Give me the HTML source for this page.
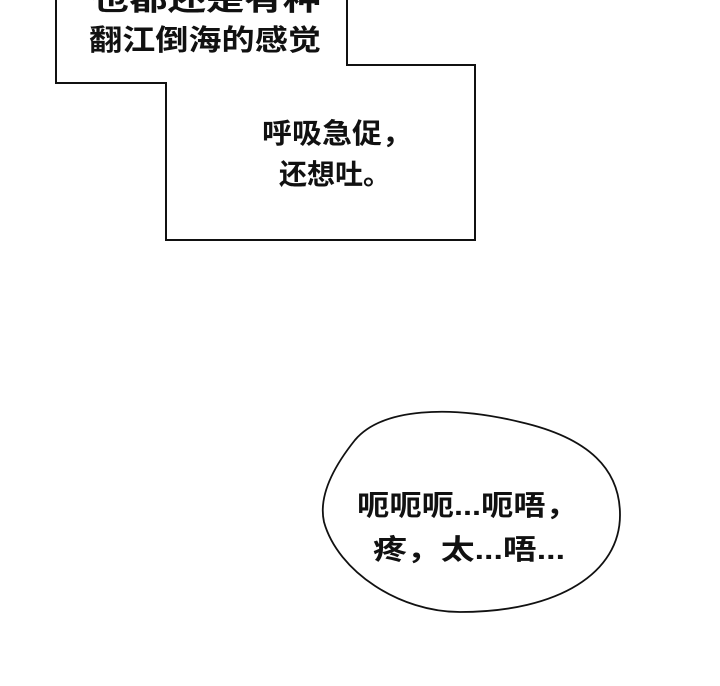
<!DOCTYPE html>
<html><head><meta charset="utf-8"><style>
html,body{margin:0;padding:0;background:#fff;}
svg{display:block}
text{font-family:"Liberation Sans","Noto Sans CJK SC",sans-serif;fill:#111;font-weight:bold;}
</style></head><body>
<svg width="720" height="686" viewBox="0 0 720 686" xmlns="http://www.w3.org/2000/svg">
<rect width="720" height="686" fill="#fff"/>
<path d="M56,-2 L56,83 L166,83 L166,240 L475,240 L475,65 L347,65 L347,-2" fill="#fff" stroke="#111" stroke-width="2"/>
<text x="91" y="10" font-size="29" textLength="230" lengthAdjust="spacingAndGlyphs">也都还是有种</text>
<text x="89" y="50" font-size="29" textLength="232" lengthAdjust="spacingAndGlyphs">翻江倒海的感觉</text>
<text x="262" y="143" font-size="28" textLength="150" lengthAdjust="spacingAndGlyphs">呼吸急促，</text>
<text x="279" y="184" font-size="28" textLength="112" lengthAdjust="spacingAndGlyphs">还想吐。</text>
<path d="M355,440 C382,408 450,405 520,422 C590,438 620,470 620,515 C620,572 560,612 460,612 C400,612 338,572 324,522 C318,495 335,465 355,440 Z" fill="#fff" stroke="#111" stroke-width="1.8"/>
<text x="357" y="515" font-size="28" textLength="221" lengthAdjust="spacingAndGlyphs">呃呃呃...呃唔，</text>
<text x="373" y="559" font-size="28" textLength="192" lengthAdjust="spacingAndGlyphs">疼，太...唔...</text>
</svg>
</body></html>
